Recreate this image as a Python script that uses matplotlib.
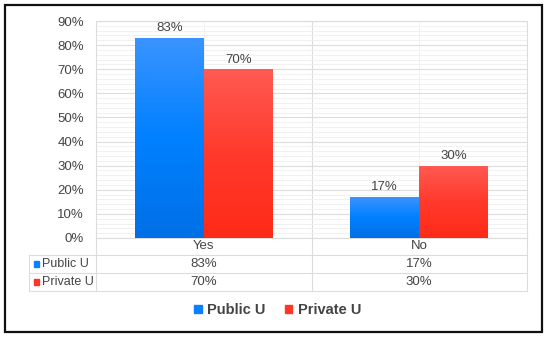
import numpy as np
import matplotlib.pyplot as plt
from matplotlib.colors import LinearSegmentedColormap
from matplotlib.patches import Rectangle, Patch
from matplotlib.transforms import blended_transform_factory

plt.rcParams['font.family'] = ['Liberation Sans', 'DejaVu Sans']

categories = ["Yes", "No"]
series = ["Public U", "Private U"]
public_u = [83, 17]
private_u = [70, 30]
values = [public_u, private_u]

colors = ["#0A80FF", "#FF3526"]
grads = [("#0070E6", "#0080FF", "#3A94FF"), ("#FF2A18", "#FF3A2C", "#FF5A52")]
txt = "#444444"
grid_c = "#DCDCDC"

fig = plt.figure(figsize=(5.5, 3.4), dpi=100)
ax = fig.add_axes([96/550, 1-238/340, 431/550, 217/340])

x = np.arange(len(categories))
w = 0.32
for i, (vals, name) in enumerate(zip(values, series)):
    bars = ax.bar(x + (i - 0.5) * w, vals, w, color=colors[i], zorder=3, label=name)
    cmap = LinearSegmentedColormap.from_list("g%d" % i, grads[i])
    for b, v in zip(bars, vals):
        x0, y0 = b.get_x(), b.get_y()
        im = ax.imshow(np.linspace(0, 1, 100).reshape(-1, 1), cmap=cmap, origin="lower",
                       extent=(x0, x0 + b.get_width(), y0, y0 + b.get_height()),
                       aspect="auto", zorder=4)
        im.set_clip_path(b)
        ax.text(b.get_x() + b.get_width() / 2, v + 1.5, "%d%%" % v, ha="center", va="bottom",
                fontsize=9.5, color=txt, zorder=5)

ax.set_xlim(-0.5, 1.5)
ax.set_ylim(0, 90)
ax.set_yticks(np.arange(0, 91, 10))
ax.set_yticks(np.arange(0, 91, 2), minor=True)
ax.set_yticklabels(["%d%%" % t for t in range(0, 91, 10)], fontsize=9.5, color=txt)
ax.tick_params(axis="y", which="both", length=0, pad=8.5)
ax.set_xticks([])
ax.grid(axis="y", which="major", color=grid_c, lw=0.8, zorder=0)
ax.grid(axis="y", which="minor", color="#EFEFEF", lw=0.6, zorder=0)
for c in x:
    ax.axvline(c, color="#EFEFEF", lw=0.6, zorder=0)
for s in ax.spines.values():
    s.set_color(grid_c)
    s.set_linewidth(0.8)

# data table under the plot
tr = blended_transform_factory(ax.transData, ax.transAxes)
rows = [-0.078, -0.161, -0.244]
xl = -0.81
for r in rows:
    ax.plot([xl, 1.5], [r, r], transform=tr, color=grid_c, lw=0.8, clip_on=False)
ax.plot([xl, xl], [rows[0], rows[-1]], transform=tr, color=grid_c, lw=0.8, clip_on=False)
for xv in [-0.5, 0.5, 1.5]:
    ax.plot([xv, xv], [0, rows[-1]], transform=tr, color=grid_c, lw=0.8, clip_on=False)
ax.plot([0.5, 0.5], [0, 1], transform=tr, color=grid_c, lw=0.8, zorder=1)

for c, cat in zip(x, categories):
    ax.text(c, -0.039, cat, transform=tr, ha="center", va="center", fontsize=9.5, color=txt)
for j, (vals, name) in enumerate(zip(values, series)):
    yc = (rows[j] + rows[j + 1]) / 2
    ax.add_patch(Rectangle((xl + 0.02, yc - 0.013), 0.025, 0.026, transform=tr,
                           color=colors[j], clip_on=False))
    ax.text(xl + 0.058, yc, name, transform=tr, ha="left", va="center", fontsize=9, color=txt)
    for c, v in zip(x, vals):
        ax.text(c, yc, "%d%%" % v, transform=tr, ha="center", va="center", fontsize=9.5, color=txt)

handles = [Patch(color=colors[i], label=series[i]) for i in range(2)]
leg = fig.legend(handles=handles, loc="center", bbox_to_anchor=(0.505, 1 - 310/340), ncol=2,
                 frameon=False, handlelength=0.5, handleheight=0.5, handletextpad=0.4,
                 columnspacing=1.3, prop={"weight": "bold", "size": 10.5})
for t in leg.get_texts():
    t.set_color(txt)

fig.add_artist(Rectangle((5/550, 1-332/340), 537/550, 327/340, transform=fig.transFigure,
                         fill=False, edgecolor="#111111", lw=1.6))

fig.savefig("out.png", dpi=100)
